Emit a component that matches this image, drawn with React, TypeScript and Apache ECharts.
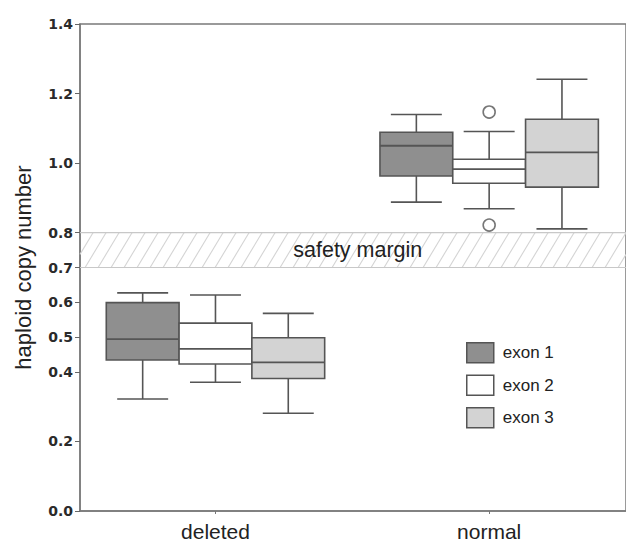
import React, { useEffect, useRef } from "react";
import * as echarts from "echarts";

const categories = ["deleted", "normal"];
const seriesNames = ["exon 1", "exon 2", "exon 3"];
// [min, q1, median, q3, max] per category
const exon1 = [
  [0.322, 0.434, 0.494, 0.599, 0.627],
  [0.888, 0.963, 1.05, 1.089, 1.14],
];
const exon2 = [
  [0.37, 0.4225, 0.466, 0.54, 0.621],
  [0.869, 0.942, 0.983, 1.011, 1.091],
];
const exon3 = [
  [0.281, 0.381, 0.427, 0.498, 0.568],
  [0.811, 0.931, 1.031, 1.126, 1.241],
];
// outliers of exon 2: [category index, value]
const exon2Outliers = [
  [1, 1.147],
  [1, 0.822],
];
const safetyMargin = [0.7, 0.8];
const yTicks = [0, 0.2, 0.4, 0.5, 0.6, 0.7, 0.8, 1.0, 1.2, 1.4];
const xTicks = [0, 1];

const fills = ["#8f8f8f", "#ffffff", "#d3d3d3"];
const stroke = "#555555";
const BOX_W = 0.266;
const SANS = "'Liberation Sans', Arial, Helvetica, sans-serif";
const WIDE = "'DejaVu Sans', Verdana, sans-serif";

function boxRender(groupIdx: number) {
  return (params: any, api: any) => {
    const cat = api.value(0);
    const cx = cat + (groupIdx - 1) * BOX_W;
    const l = api.coord([cx - BOX_W / 2, 0])[0];
    const r = api.coord([cx + BOX_W / 2, 0])[0];
    const mid = api.coord([cx, 0])[0];
    const capHalf = ((r - l) * 0.7) / 2;
    const yMin = api.coord([cx, api.value(1)])[1];
    const yQ1 = api.coord([cx, api.value(2)])[1];
    const yMed = api.coord([cx, api.value(3)])[1];
    const yQ3 = api.coord([cx, api.value(4)])[1];
    const yMax = api.coord([cx, api.value(5)])[1];
    const ls = { stroke, lineWidth: 1.6 };
    return {
      type: "group",
      children: [
        { type: "line", shape: { x1: mid, y1: yMax, x2: mid, y2: yQ3 }, style: ls },
        { type: "line", shape: { x1: mid, y1: yQ1, x2: mid, y2: yMin }, style: ls },
        { type: "line", shape: { x1: mid - capHalf, y1: yMax, x2: mid + capHalf, y2: yMax }, style: ls },
        { type: "line", shape: { x1: mid - capHalf, y1: yMin, x2: mid + capHalf, y2: yMin }, style: ls },
        {
          type: "rect",
          shape: { x: l, y: yQ3, width: r - l, height: yQ1 - yQ3 },
          style: { fill: api.visual("color"), stroke, lineWidth: 1.6 },
        },
        { type: "line", shape: { x1: l, y1: yMed, x2: r, y2: yMed }, style: { stroke, lineWidth: 1.8 } },
      ],
    };
  };
}

function bandRender(params: any, api: any) {
  const cs = params.coordSys;
  const left = cs.x;
  const right = cs.x + cs.width;
  const yTop = api.coord([0, api.value(1)])[1];
  const yBot = api.coord([0, api.value(0)])[1];
  const h = yBot - yTop;
  const run = h * 0.6;
  const children: any[] = [];
  const hs = { stroke: "#d4d4d4", lineWidth: 1.1 };
  for (let x0 = left - run; x0 < right; x0 += 13) {
    let xs = x0, ys = yBot, xe = x0 + run, ye = yTop;
    if (xs < left) {
      const t = (left - x0) / run;
      xs = left;
      ys = yBot - t * h;
    }
    if (xe > right) {
      const t = (right - x0) / run;
      xe = right;
      ye = yBot - t * h;
    }
    children.push({ type: "line", shape: { x1: xs, y1: ys, x2: xe, y2: ye }, style: hs });
  }
  children.push({ type: "line", shape: { x1: left, y1: yTop, x2: right, y2: yTop }, style: { stroke: "#c8c8c8", lineWidth: 1.2 } });
  children.push({ type: "line", shape: { x1: left, y1: yBot, x2: right, y2: yBot }, style: { stroke: "#c8c8c8", lineWidth: 1.2 } });
  const c = api.coord([0.52, (api.value(0) + api.value(1)) / 2]);
  children.push({
    type: "text",
    x: c[0],
    y: c[1],
    style: {
      text: "safety margin",
      fill: "#222",
      font: "21.5px 'Liberation Sans', Arial, sans-serif",
      align: "center",
      verticalAlign: "middle",
    },
  });
  return { type: "group", children };
}

export default function App() {
  const ref = useRef<HTMLDivElement>(null);
  useEffect(() => {
    if (!ref.current) return;
    const chart = echarts.init(ref.current, null, { renderer: "svg" });
    const datasets = [exon1, exon2, exon3];
    const boxSeries = datasets.map((d, i) => ({
      type: "custom",
      name: seriesNames[i],
      renderItem: boxRender(i),
      itemStyle: { color: fills[i], borderColor: stroke, borderWidth: 1.5 },
      encode: { x: 0, y: [1, 2, 3, 4, 5] },
      data: d.map((v, ci) => [ci, ...v]),
      z: 3,
    }));
    chart.setOption({
      animation: false,
      textStyle: { fontFamily: SANS },
      grid: {
        left: 80,
        top: 24,
        width: 548.6,
        height: 487,
        show: true,
        borderColor: "#7a7a7a",
        borderWidth: 1.5,
        backgroundColor: "transparent",
      },
      legend: {
        data: seriesNames,
        orient: "vertical",
        left: 466,
        top: 342,
        padding: 0,
        itemWidth: 27,
        itemHeight: 20,
        itemGap: 11,
        icon: "rect",
        itemStyle: { borderColor: stroke, borderWidth: 1.5 },
        textStyle: { fontSize: 17, color: "#222", fontFamily: SANS, padding: [0, 0, 0, 4] },
        selectedMode: false,
      },
      xAxis: {
        type: "value",
        min: -0.495,
        max: 1.5,
        axisLine: { show: true, onZero: false, lineStyle: { color: "#7a7a7a", width: 1.5 } },
        axisTick: { show: true, customValues: xTicks, length: 3, lineStyle: { color: "#777" } },
        axisLabel: {
          customValues: xTicks,
          formatter: (v: number) => categories[Math.round(v)] ?? "",
          fontSize: 21,
          fontFamily: SANS,
          color: "#222",
          margin: 10,
        },
        splitLine: { show: false },
      },
      yAxis: {
        type: "value",
        min: 0,
        max: 1.4,
        name: "haploid copy number",
        nameLocation: "middle",
        nameGap: 46,
        nameTextStyle: { fontSize: 22, color: "#222", fontFamily: SANS },
        axisLine: { show: true, onZero: false, lineStyle: { color: "#7a7a7a", width: 1.5 } },
        axisTick: { show: true, customValues: yTicks, length: 5, lineStyle: { color: "#666" } },
        axisLabel: {
          customValues: yTicks,
          formatter: (v: number) => v.toFixed(1),
          fontSize: 14,
          fontWeight: "bold",
          fontFamily: WIDE,
          color: "#2a2a2a",
          margin: 7,
        },
        splitLine: { show: false },
      },
      series: [
        {
          type: "custom",
          name: "safety margin",
          renderItem: bandRender,
          encode: { y: [0, 1] },
          data: [safetyMargin],
          silent: true,
          z: 1,
        },
        ...boxSeries,
        {
          type: "scatter",
          name: "exon 2 outliers",
          data: exon2Outliers,
          symbol: "circle",
          symbolSize: 12,
          itemStyle: { color: "#fff", borderColor: stroke, borderWidth: 1.6 },
          z: 4,
        },
      ],
    });
    return () => chart.dispose();
  }, []);
  return (
    <div
      ref={ref}
      style={{ position: "fixed", left: 0, top: 0, width: 626, height: 543, background: "#fff" }}
    />
  );
}
